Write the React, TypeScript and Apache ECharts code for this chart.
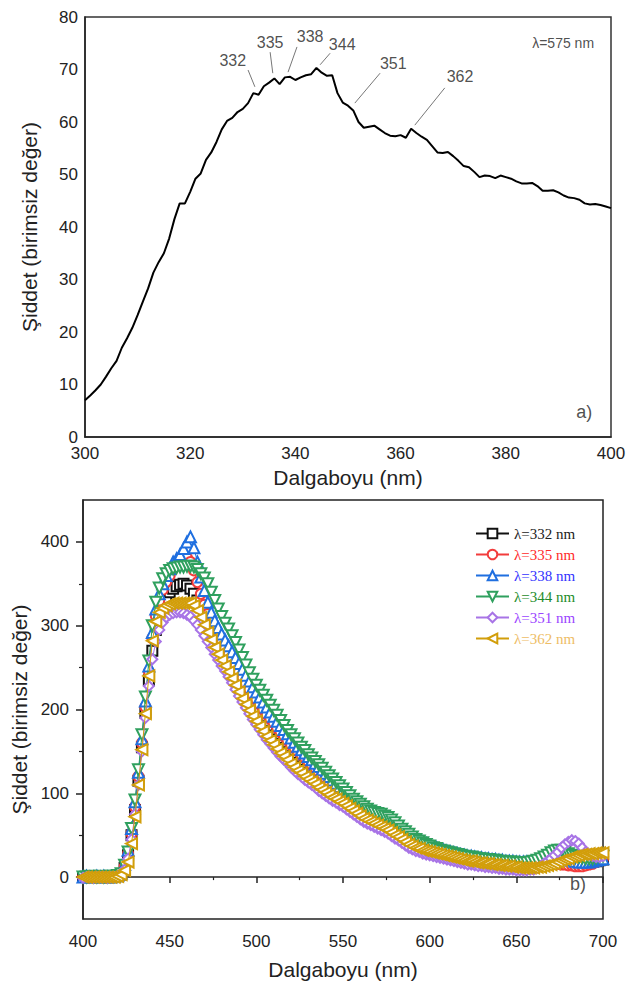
import React, { useEffect, useRef } from 'react';
import * as echarts from 'echarts';

// ---------- Panel a) excitation spectrum (λem = 575 nm) ----------
const topStartNm = 300;
const topIntensity = [
  7.0, 7.9, 8.9, 10.0, 11.5, 13.1, 14.5, 17.0, 18.8, 20.8,
  23.2, 25.8, 28.3, 31.3, 33.3, 35.0, 37.8, 41.5, 44.5, 44.5,
  46.7, 49.2, 50.2, 52.8, 54.2, 56.2, 58.6, 60.2, 60.8, 61.9,
  62.5, 63.6, 65.5, 65.2, 66.8, 67.5, 68.3, 67.2, 68.5, 68.6,
  68.0, 68.5, 68.9, 69.1, 70.3, 69.4, 68.8, 68.9, 65.5, 63.7,
  63.1, 62.2, 60.0, 58.9, 59.1, 59.3, 58.6, 57.9, 57.4, 57.3,
  57.5, 57.0, 58.7, 57.9, 57.2, 56.6, 55.4, 54.2, 54.1, 54.3,
  53.5, 52.6, 51.6, 51.4, 50.5, 49.5, 49.8, 49.7, 49.3, 49.8,
  49.5, 49.2, 48.7, 48.3, 48.3, 48.4, 47.8, 46.9, 46.9, 47.0,
  46.6, 46.0, 45.6, 45.5, 45.2, 44.5, 44.3, 44.4, 44.2, 43.9,
  43.6,
];
const annotLabels = ['332', '335', '338', '344', '351', '362'];
const annotLabelPos = [[328.1, 71.8], [335.2, 75.2], [342.8, 76.2], [348.9, 74.7], [358.6, 71.2], [371.3, 68.6]];
const annotLineStart = [[331.0, 69.9], [335.2, 73.3], [340.3, 74.3], [346.6, 73.1], [356.1, 69.3], [368.4, 66.5]];
const annotLineEnd = [[332.3, 66.7], [335.7, 69.3], [338.6, 69.5], [344.7, 70.9], [351.3, 63.6], [362.7, 59.4]];

// ---------- Panel b) emission spectra ----------
const botStartNm = 400;
const botStepNm = 2;
const seriesNames = ['λ=332 nm', 'λ=335 nm', 'λ=338 nm', 'λ=344 nm', 'λ=351 nm', 'λ=362 nm'];
const black332 = [
  0, 0, 0, 1, 0, 0, 0, 1, 0, 0, 1,
  3, 11, 26, 50, 80, 115, 155, 196, 235, 270,
  295, 312, 324, 333, 340, 344, 347, 349, 350, 348,
  344, 338, 330, 322, 314, 306, 298, 290, 283, 276,
  269, 262, 255, 248, 241, 234, 228, 221, 215, 209,
  203, 197, 192, 186, 181, 176, 171, 166, 161, 156,
  152, 148, 144, 140, 136, 132, 128, 124, 120, 116,
  112, 108, 104, 100, 97, 93, 90, 86, 83, 80,
  78, 76, 74, 72, 71, 70, 68, 66, 63, 60,
  57, 54, 51, 48, 45, 43, 41, 39, 37, 35,
  33, 32, 30, 29, 28, 27, 26, 25, 24, 23,
  22, 22, 21, 20, 20, 19, 19, 18, 18, 17,
  17, 16, 16, 16, 15, 15, 15, 15, 15, 15,
  15, 15, 16, 16, 16, 17, 17, 17, 17, 16,
  16, 15, 15, 15, 16, 17, 18, 19, 20, 21,
];
const red335 = [
  0, 0, 1, 0, 0, 0, 1, 0, 0, 1, 1,
  4, 12, 28, 52, 84, 120, 160, 203, 245, 285,
  312, 330, 343, 352, 360, 368, 374, 379, 382, 381,
  376, 366, 352, 338, 325, 314, 304, 295, 287, 280,
  273, 266, 259, 252, 245, 238, 231, 224, 218, 212,
  206, 200, 194, 189, 184, 178, 173, 168, 163, 158,
  154, 150, 146, 142, 138, 134, 130, 126, 122, 118,
  114, 110, 106, 102, 98, 95, 91, 88, 85, 82,
  79, 77, 75, 73, 72, 71, 69, 67, 64, 61,
  58, 55, 52, 49, 46, 44, 42, 40, 38, 36,
  34, 33, 31, 30, 29, 28, 27, 26, 25, 24,
  23, 23, 22, 21, 21, 20, 20, 19, 19, 18,
  18, 17, 17, 17, 16, 16, 16, 16, 16, 16,
  16, 16, 16, 16, 16, 16, 16, 15, 15, 14,
  14, 13, 13, 13, 14, 15, 16, 18, 20, 22,
];
const blue338 = [
  0, 1, 0, 0, 1, 0, 1, 0, 0, 1, 2,
  5, 15, 32, 58, 90, 125, 165, 210, 252, 292,
  320, 338, 350, 360, 368, 376, 380, 385, 392, 400,
  406, 393, 376, 358, 342, 328, 316, 306, 298, 290,
  283, 276, 269, 262, 255, 248, 241, 234, 227, 221,
  215, 209, 203, 197, 192, 186, 181, 176, 171, 166,
  161, 156, 152, 148, 144, 140, 136, 132, 128, 124,
  120, 116, 112, 108, 104, 100, 96, 92, 89, 86,
  83, 81, 79, 77, 76, 75, 73, 71, 68, 65,
  61, 58, 55, 52, 49, 46, 44, 42, 40, 38,
  36, 35, 33, 32, 31, 30, 29, 28, 27, 26,
  25, 25, 24, 23, 23, 22, 22, 21, 21, 20,
  20, 19, 19, 19, 18, 18, 18, 18, 18, 18,
  19, 20, 21, 22, 23, 24, 25, 25, 24, 22,
  20, 19, 18, 18, 18, 18, 19, 20, 21, 22,
];
const green344 = [
  0, 0, 1, 0, 0, 1, 0, 0, 1, 1, 2,
  4, 14, 30, 58, 92, 128, 170, 215, 258, 300,
  328, 345, 356, 362, 366, 368, 369, 370, 370, 371,
  371, 370, 367, 362, 357, 350, 340, 330, 320, 311,
  303, 296, 288, 280, 271, 262, 253, 244, 236, 229,
  223, 217, 211, 205, 199, 193, 187, 181, 175, 170,
  165, 160, 155, 151, 146, 142, 138, 134, 130, 125,
  121, 117, 113, 109, 105, 101, 97, 93, 90, 87,
  84, 81, 79, 77, 76, 75, 73, 71, 68, 65,
  61, 57, 54, 51, 48, 45, 43, 41, 39, 37,
  35, 34, 32, 31, 30, 29, 28, 27, 26, 25,
  24, 24, 23, 22, 22, 21, 21, 20, 20, 19,
  19, 18, 18, 18, 17, 17, 17, 17, 18, 19,
  20, 22, 24, 26, 29, 31, 32, 32, 30, 28,
  26, 25, 24, 23, 22, 22, 22, 23, 24, 25,
];
const purple351 = [
  -1, 0, 0, -1, 0, 0, 0, -1, 0, 0, 1,
  3, 9, 22, 45, 75, 110, 150, 190, 228, 260,
  281, 295, 304, 310, 313, 315, 316, 316, 315, 313,
  311, 306, 301, 295, 288, 281, 274, 266, 259, 252,
  246, 239, 232, 224, 216, 209, 202, 195, 188, 182,
  176, 170, 164, 159, 154, 149, 144, 140, 136, 131,
  127, 123, 120, 116, 113, 110, 107, 103, 100, 97,
  94, 91, 89, 86, 84, 81, 78, 75, 72, 69,
  66, 64, 62, 60, 58, 56, 54, 52, 49, 46,
  44, 41, 38, 35, 33, 31, 30, 28, 27, 26,
  25, 24, 23, 22, 21, 20, 19, 18, 17, 16,
  15, 15, 14, 13, 13, 12, 12, 11, 11, 10,
  10, 9, 9, 9, 8, 8, 8, 8, 9, 9,
  11, 13, 16, 19, 22, 26, 30, 35, 39, 42,
  44, 43, 40, 35, 30, 27, 25, 24, 24, 25,
];
const gold362 = [
  0, 0, 0, 0, 0, 0, 0, 0, 0, 0, 1,
  3, 8, 18, 40, 72, 110, 152, 195, 240, 282,
  305, 316, 321, 324, 326, 327, 327, 327, 327, 327,
  327, 324, 318, 310, 301, 292, 283, 274, 266, 259,
  252, 245, 237, 229, 221, 213, 206, 199, 192, 186,
  180, 174, 168, 163, 158, 153, 148, 144, 140, 135,
  131, 127, 124, 120, 117, 114, 111, 107, 104, 101,
  98, 95, 93, 90, 88, 85, 82, 79, 76, 73,
  70, 68, 66, 64, 62, 60, 58, 56, 53, 50,
  48, 45, 42, 39, 37, 35, 34, 32, 31, 30,
  29, 28, 27, 26, 25, 24, 23, 22, 21, 20,
  19, 19, 18, 17, 17, 16, 16, 15, 15, 14,
  14, 13, 13, 12, 12, 11, 11, 11, 11, 11,
  12, 12, 13, 14, 15, 16, 18, 20, 21, 22,
  24, 25, 26, 27, 27, 28, 28, 29, 29, 29,
];
const botSeriesValues = [black332, red335, blue338, green344, purple351, gold362];
const botColors = ['#111111', '#f23c3c', '#1f6fe0', '#2fa05e', '#a874e6', '#d29e0a'];
const legendTextColors = ['#222222', '#ff2a2a', '#3333ff', '#1e8c2a', '#9b45ff', '#eebd66'];
const botSymbols = ['rect', 'circle', 'triangle', 'triangle', 'diamond', 'triangle'];
const botSymbolRotate = [0, 0, 0, 180, 0, 90];
const yMajor = [0, 100, 200, 300, 400];
const yMinor = [50, 150, 250, 350];

const SANS = "'Liberation Sans', Arial, sans-serif";
const SERIF = "'Liberation Serif', 'Times New Roman', serif";

export default function App() {
  const ref = useRef<HTMLDivElement>(null);

  useEffect(() => {
    if (!ref.current) return;
    const chart = echarts.init(ref.current, null, { renderer: 'svg' });

    const topData = topIntensity.map((v, i) => [topStartNm + i, v]);
    const labelStyle = { color: '#222', fontSize: 17, fontFamily: SANS };
    const nameStyle = { color: '#222', fontSize: 21, fontFamily: SANS };
    const axisLine = { show: true, lineStyle: { color: '#222', width: 1.5 } };

    const botSeries = botSeriesValues.map((vals, k) => ({
      type: 'line',
      name: seriesNames[k],
      xAxisIndex: 1,
      yAxisIndex: 1,
      data: vals.map((v, j) => [botStartNm + j * botStepNm, v]),
      symbol: botSymbols[k],
      symbolRotate: botSymbolRotate[k],
      symbolSize: botSymbols[k] === 'triangle' ? 11 : 10,
      showSymbol: true,
      showAllSymbol: true,
      itemStyle: { color: '#ffffff', borderColor: botColors[k], borderWidth: 2 },
      lineStyle: { color: botColors[k], width: 1 },
      emphasis: { disabled: true },
      silent: true,
      z: 2 + k,
    }));

    chart.setOption({
      animation: false,
      grid: [
        { left: 85, top: 17, width: 526, height: 420, show: true, borderColor: '#333', borderWidth: 1.5 },
        { left: 83, top: 500, width: 520, height: 419, show: true, borderColor: '#222', borderWidth: 1.5 },
      ],
      legend: {
        orient: 'vertical',
        left: 470,
        top: 521,
        itemWidth: 33,
        itemHeight: 12,
        itemGap: 6,
        textStyle: { fontFamily: SERIF, fontSize: 15 },
        data: seriesNames.map((n, i) => ({ name: n, textStyle: { color: legendTextColors[i] } })),
        selectedMode: false,
      },
      xAxis: [
        {
          gridIndex: 0, type: 'value', min: 300, max: 400, interval: 20,
          axisLine, axisTick: { show: false }, splitLine: { show: false },
          axisLabel: { ...labelStyle, margin: 8 },
          name: 'Dalgaboyu (nm)', nameLocation: 'middle', nameGap: 30, nameTextStyle: nameStyle,
        },
        {
          gridIndex: 1, type: 'value', min: 400, max: 700, interval: 50,
          axisLine,
          axisTick: { show: true, length: 6, lineStyle: { color: '#222', width: 1.5 } },
          minorTick: { show: true, splitNumber: 2, length: 3, lineStyle: { color: '#222', width: 1.2 } },
          splitLine: { show: false }, minorSplitLine: { show: false },
          axisLabel: { ...labelStyle, margin: 14 },
          name: 'Dalgaboyu (nm)', nameLocation: 'middle', nameGap: 40, nameTextStyle: nameStyle,
        },
      ],
      yAxis: [
        {
          gridIndex: 0, type: 'value', min: 0, max: 80, interval: 10,
          axisLine, axisTick: { show: false }, splitLine: { show: false },
          axisLabel: { ...labelStyle, margin: 7 },
          name: 'Şiddet (birimsiz değer)', nameLocation: 'middle', nameGap: 45, nameTextStyle: nameStyle,
        },
        {
          gridIndex: 1, type: 'value', min: -50, max: 450,
          axisLine,
          axisTick: { show: true, length: 7, customValues: yMajor, lineStyle: { color: '#222', width: 1.5 } },
          splitLine: { show: false },
          axisLabel: { ...labelStyle, margin: 14, customValues: yMajor },
          name: 'Şiddet (birimsiz değer)', nameLocation: 'middle', nameGap: 47, nameTextStyle: nameStyle,
        },
        {
          gridIndex: 1, type: 'value', min: -50, max: 450, position: 'left',
          axisLine: { show: false },
          axisTick: { show: true, length: 4, customValues: yMinor, lineStyle: { color: '#222', width: 1.2 } },
          splitLine: { show: false },
          axisLabel: { show: false },
        },
      ],
      series: [
        {
          type: 'line', xAxisIndex: 0, yAxisIndex: 0, data: topData,
          symbol: 'none', lineStyle: { color: '#000', width: 2 }, silent: true, z: 3,
        },
        {
          type: 'scatter', xAxisIndex: 0, yAxisIndex: 0, silent: true, symbolSize: 0,
          data: annotLabelPos.map((p, i) => [p[0], p[1], annotLabels[i]]),
          label: {
            show: true, position: 'inside', formatter: (p: any) => p.value[2],
            color: '#222', fontSize: 16, fontFamily: SANS,
          },
          markLine: {
            silent: true, symbol: ['none', 'none'], label: { show: false },
            lineStyle: { color: '#777', width: 1, type: 'solid' },
            emphasis: { disabled: true },
            data: annotLineStart.map((s, i) => [{ coord: s }, { coord: annotLineEnd[i] }]),
          },
          z: 4,
        },
        {
          type: 'scatter', xAxisIndex: 0, yAxisIndex: 0, silent: true, symbolSize: 0,
          data: [[390.9, 75.0, 'λ=575 nm']],
          label: {
            show: true, position: 'inside', formatter: (p: any) => p.value[2],
            color: '#222', fontSize: 14, fontFamily: SANS,
          },
          z: 4,
        },
        {
          type: 'scatter', xAxisIndex: 0, yAxisIndex: 0, silent: true, symbolSize: 0,
          data: [[394.9, 4.8, 'a)']],
          label: {
            show: true, position: 'inside', formatter: (p: any) => p.value[2],
            color: '#222', fontSize: 18, fontFamily: SANS,
          },
          z: 4,
        },
        {
          type: 'scatter', xAxisIndex: 1, yAxisIndex: 1, silent: true, symbolSize: 0,
          data: [[685.6, -8, 'b)']],
          label: {
            show: true, position: 'inside', formatter: (p: any) => p.value[2],
            color: '#222', fontSize: 18, fontFamily: SANS,
          },
          z: 10,
        },
        ...botSeries,
      ],
    } as any);

    return () => chart.dispose();
  }, []);

  return (
    <div
      ref={ref}
      style={{ position: 'absolute', left: 0, top: 0, width: 640, height: 988, background: '#fff' }}
    />
  );
}
